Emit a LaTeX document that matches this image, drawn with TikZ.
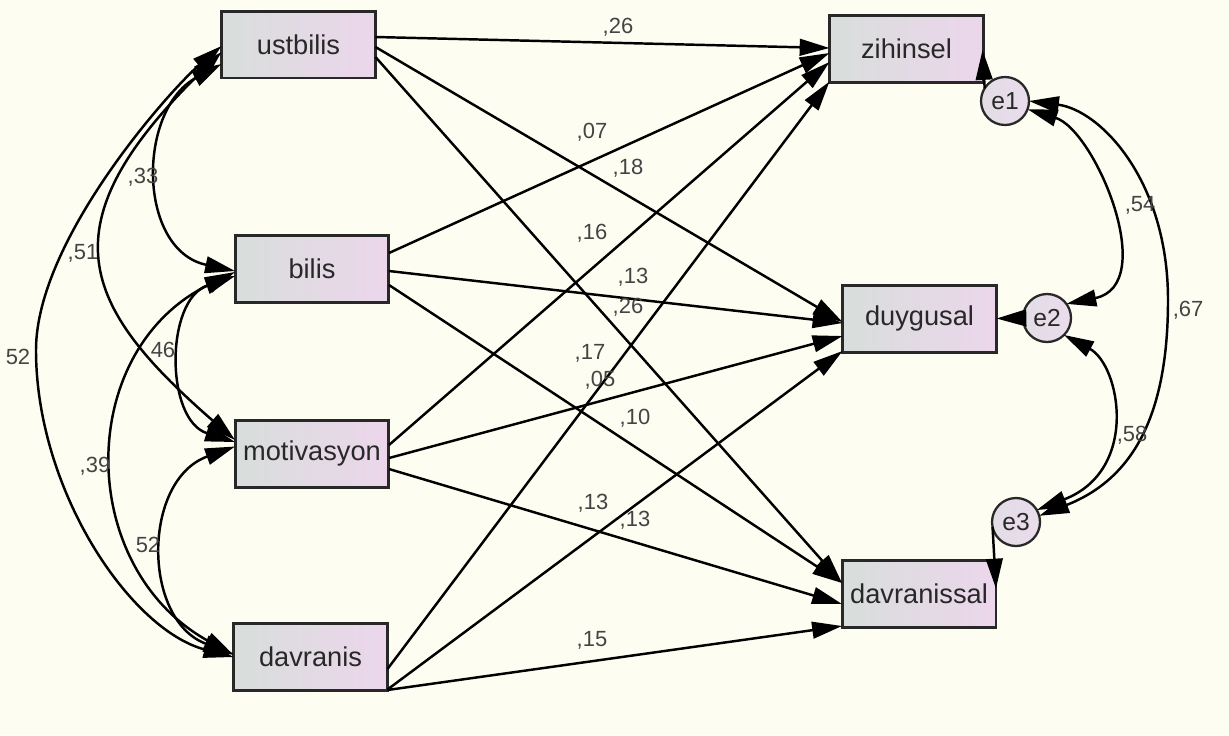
\documentclass[tikz,border=0pt]{standalone}
\usepackage{fontspec}
\setmainfont{Liberation Sans}
\usetikzlibrary{arrows.meta,calc}
\definecolor{paper}{RGB}{253,253,241}
\definecolor{boxleft}{RGB}{216,222,219}
\definecolor{boxright}{RGB}{236,214,236}
\definecolor{ink}{RGB}{40,40,40}
\definecolor{numink}{RGB}{68,68,68}
\definecolor{errfill}{RGB}{234,220,236}
\begin{document}
\begin{tikzpicture}[x=0.02cm,y=-0.02cm,
  obsbox/.style={draw=ink, line width=1.7pt, left color=boxleft, right color=boxright,
    minimum width=3.08cm, minimum height=1.34cm, inner sep=0pt, outer sep=0pt,
    text=ink, font=\fontsize{15.5}{15.5}\selectfont},
  errcirc/.style={circle, draw=ink, line width=1.3pt, left color=boxleft!40!errfill, right color=errfill,
    minimum size=0.96cm, inner sep=0pt, outer sep=0pt, text=ink, font=\fontsize{14}{14}\selectfont},
  regarrow/.style={line width=1.4pt, draw=black, -{Triangle[length=17pt,width=9.5pt]}},
  covarrow/.style={line width=1.4pt, draw=black, {Triangle[length=17pt,width=9.5pt]}-{Triangle[length=17pt,width=9.5pt]}},
  coef/.style={text=numink, inner sep=0pt, font=\fontsize{12.5}{12.5}\selectfont}]

% canvas
\fill[paper] (0,0) rectangle (1229,735);
\useasboundingbox (0,0) rectangle (1229,735);

% exogenous observed variables
\node[obsbox] (ust) at (298.5,44.5) {ustbilis};
\node[obsbox] (bil) at (312,269) {bilis};
\node[obsbox] (mot) at (312,453.5) {motivasyon};
\node[obsbox] (dav) at (310.5,657) {davranis};

% endogenous observed variables
\node[obsbox] (zih) at (906.5,49) {zihinsel};
\node[obsbox] (duy) at (919.5,318.5) {duygusal};
\node[obsbox] (dvs) at (919,593.5) {davranissal};

% error terms
\node[errcirc] (e1) at (1005,101) {e1};
\node[errcirc] (e2) at (1047,318) {e2};
\node[errcirc] (e3) at (1016,522) {e3};

% regression paths
\draw[regarrow] ($(ust.east)+(0,-7.5)$) -- ($(zih.west)+(0,-1)$);
\draw[regarrow] ($(ust.east)+(0,2.5)$) -- ($(duy.west)+(0,3.5)$);
\draw[regarrow] ($(ust.east)+(0,12.5)$) -- ($(dvs.west)+(0,-10.5)$);
\draw[regarrow] ($(bil.east)+(0,-16)$) -- ($(zih.west)+(0,4)$);
\draw[regarrow] ($(bil.east)+(0,2)$) -- ($(duy.west)+(0,4.5)$);
\draw[regarrow] ($(bil.east)+(0,16)$) -- ($(dvs.west)+(0,-10.5)$);
\draw[regarrow] ($(mot.east)+(0,-8.5)$) -- ($(zih.west)+(0,13)$);
\draw[regarrow] ($(mot.east)+(0,4.5)$) -- ($(duy.west)+(0,17.5)$);
\draw[regarrow] ($(mot.east)+(0,15.5)$) -- ($(dvs.west)+(0,10.5)$);
\draw[regarrow] ($(dav.east)+(0,12)$) -- ($(zih.south west)+(0,-1)$);
\draw[regarrow] ($(dav.south east)+(0,-1)$) -- ($(duy.south west)+(0,-1)$);
\draw[regarrow] ($(dav.south east)+(0,-0.5)$) -- ($(dvs.south west)+(0,-1)$);

% error paths
\draw[regarrow] (e1.148) -- ($(zih.east)+(-1,1)$);
\draw[regarrow] (e2.west) -- (duy.east);
\draw[regarrow] (e3.192) -- ($(dvs.east)+(0,-5)$);

% covariances among exogenous variables
\draw[covarrow] ($(ust.west)+(0,19.5)$) .. controls (137,110) and (137,250) .. ($(bil.west)+(0,2)$);
\draw[covarrow] ($(ust.west)+(0,7.5)$) .. controls (45,225) and (80,305) .. ($(mot.west)+(0,-13.5)$);
\draw[covarrow] ($(ust.west)+(0,1.5)$) .. controls (170,90) and (36,240) .. (36,350)
   .. controls (36,490) and (130,630) .. (dav.west);
\draw[covarrow] ($(bil.west)+(0,7)$) .. controls (165,300) and (165,420) .. ($(mot.west)+(0,-11.5)$);
\draw[covarrow] ($(bil.west)+(0,3)$) .. controls (75,350) and (75,567) .. ($(dav.west)+(0,-2)$);
\draw[covarrow] ($(mot.west)+(0,-7)$) .. controls (142,480) and (142,620) .. ($(dav.west)+(0,-3)$);

% covariances among error terms
\draw[covarrow] (e1.-20) .. controls (1095,130) and (1160,285) .. (e2.36);
\draw[covarrow] (e1.0) .. controls (1100,110) and (1168,180) .. (1168,300)
   .. controls (1168,420) and (1130,480) .. (e3.15);
\draw[covarrow] (e2.-45) .. controls (1120,365) and (1140,470) .. (e3.30);

% coefficients
\node[coef] (k1) at (618,27) {,26};
\node[coef] (k2) at (592,132) {,07};
\node[coef] (k3) at (628,168) {,18};
\node[coef] (k4) at (592,233) {,16};
\node[coef] (k5) at (633,277) {,13};
\node[coef] (k6) at (628,307) {,26};
\node[coef] (k7) at (590,353) {,17};
\node[coef] (k8) at (600,380) {,05};
\node[coef] (k9) at (635,418) {,10};
\node[coef] (k10) at (593,503) {,13};
\node[coef] (k11) at (635,520) {,13};
\node[coef] (k12) at (592,640) {,15};
\node[coef] (c1) at (143,177) {,33};
\node[coef] (c2) at (83,253) {,51};
\node[coef] (c3) at (18,357) {52};
\node[coef] (c4) at (163,350) {46};
\node[coef] (c5) at (95,466) {,39};
\node[coef] (c6) at (148,545) {52};
\node[coef] (c7) at (1140,205) {,54};
\node[coef] (c8) at (1188,310) {,67};
\node[coef] (c9) at (1132,435) {,58};
\end{tikzpicture}
\end{document}
